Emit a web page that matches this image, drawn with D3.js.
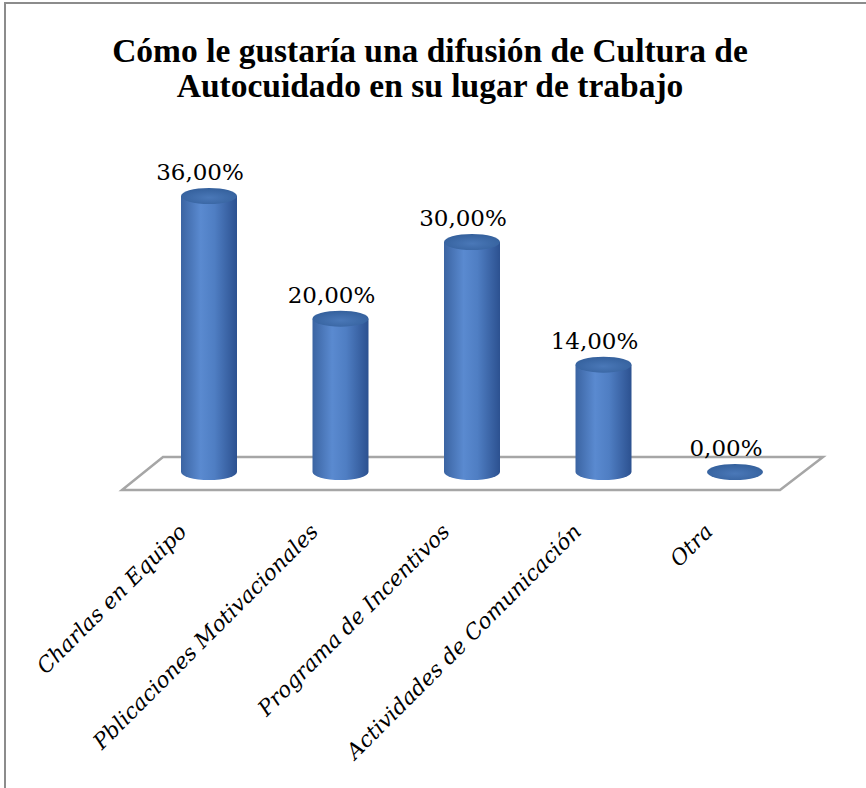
<!DOCTYPE html>
<html>
<head>
<meta charset="utf-8">
<script src="https://cdn.jsdelivr.net/npm/d3@7"></script>
<style>
  body { margin: 0; background: #fff; }
</style>
</head>
<body>
<div id="chart"></div>
<script>
// data
const categories = ["Charlas en Equipo", "Pblicaciones Motivacionales", "Programa de Incentivos", "Actividades de Comunicación", "Otra"];
const values = [36, 20, 30, 14, 0];
const labels = ["36,00%", "20,00%", "30,00%", "14,00%", "0,00%"];
const titleLines = ["Cómo le gustaría una difusión de Cultura de", "Autocuidado en su lugar de trabajo"];

const W = 866, H = 788;
const rx = 28, ry = 8; // cylinder radius / ellipse flattening

const svg = d3.select("#chart").append("svg")
  .attr("width", W)
  .attr("height", H);

// frame (only top and left edges show in the picture)
svg.append("path")
  .attr("d", "M5,788 L5,3 L866,3")
  .attr("fill", "none")
  .attr("stroke", "#8c8c8c")
  .attr("stroke-width", 2);

// title
svg.append("g").selectAll("text")
  .data(titleLines)
  .enter().append("text")
  .attr("x", 430)
  .attr("y", (d, i) => 62 + i * 35)
  .attr("text-anchor", "middle")
  .style("font-family", "'Liberation Serif', serif")
  .style("font-weight", "bold")
  .style("font-size", "33.5px")
  .text(d => d);

const x = d3.scalePoint()
  .domain(categories)
  .range([209, 735]);

const y = d3.scaleLinear()
  .domain([0, 36])
  .range([472, 196]);

// gradients
const defs = svg.append("defs");
const sideGrad = defs.append("linearGradient").attr("id", "side")
  .attr("x1", "0%").attr("x2", "100%").attr("y1", "0%").attr("y2", "0%");
sideGrad.append("stop").attr("offset", "0%").attr("stop-color", "#3b64a2");
sideGrad.append("stop").attr("offset", "35%").attr("stop-color", "#5a8ad0");
sideGrad.append("stop").attr("offset", "60%").attr("stop-color", "#4f7ec3");
sideGrad.append("stop").attr("offset", "100%").attr("stop-color", "#2c5190");

const topGrad = defs.append("radialGradient").attr("id", "topcap")
  .attr("cx", "50%").attr("cy", "60%").attr("r", "60%");
topGrad.append("stop").attr("offset", "0%").attr("stop-color", "#4a78b8");
topGrad.append("stop").attr("offset", "100%").attr("stop-color", "#34609c");

// floor
const x0 = x.range()[0], x1 = x.range()[1];
const base = y(0);
const floor = [
  [x0 - 46, base - 15],
  [x1 + 88, base - 15],
  [x1 + 45, base + 18],
  [x0 - 87, base + 18]
];
svg.append("path")
  .attr("d", d3.line()(floor) + "Z")
  .attr("fill", "#fff")
  .attr("stroke", "#a6a6a6")
  .attr("stroke-width", 2.5);

// cylinders
const bars = svg.append("g").selectAll("g")
  .data(values.map((v, i) => ({ cat: categories[i], v })))
  .enter().append("g");

bars.filter(d => d.v > 0).append("path")
  .attr("d", d => {
    const cx = x(d.cat);
    const yt = y(d.v), yb = y(0);
    return `M${cx - rx},${yt} L${cx - rx},${yb} A${rx},${ry} 0 0 0 ${cx + rx},${yb} L${cx + rx},${yt} Z`;
  })
  .attr("fill", "url(#side)");

bars.append("ellipse")
  .attr("cx", d => x(d.cat))
  .attr("cy", d => y(d.v))
  .attr("rx", rx)
  .attr("ry", ry)
  .attr("fill", "url(#topcap)");

// value labels
svg.append("g").selectAll("text")
  .data(values)
  .enter().append("text")
  .attr("x", (d, i) => x(categories[i]) - 9)
  .attr("y", d => y(d) - 16)
  .attr("text-anchor", "middle")
  .style("font-family", "'DejaVu Serif', serif")
  .style("font-size", "23px")
  .text((d, i) => labels[i]);

// category labels
svg.append("g").selectAll("text")
  .data(categories)
  .enter().append("text")
  .attr("transform", d => `translate(${x(d) - 21},${533}) rotate(-45)`)
  .attr("text-anchor", "end")
  .style("font-family", "'DejaVu Serif', serif")
  .style("font-style", "italic")
  .style("font-size", "21.5px")
  .text(d => d);
</script>
</body>
</html>
